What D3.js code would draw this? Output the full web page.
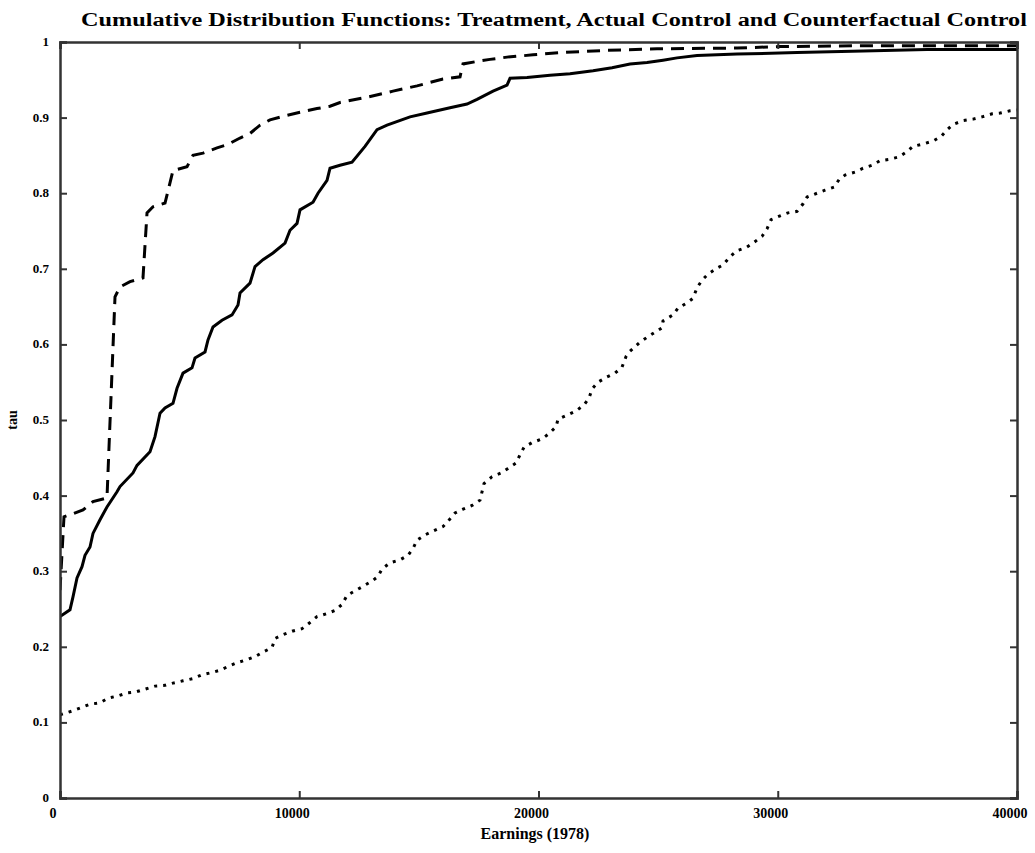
<!DOCTYPE html>
<html><head><meta charset="utf-8">
<script src="https://cdn.jsdelivr.net/npm/d3@7"></script>
<style>body{margin:0;background:#fff}svg{display:block}</style>
</head><body><svg id="c" width="1035" height="853"></svg>
<script>
const titleText = "Cumulative Distribution Functions: Treatment, Actual Control and Counterfactual Control";
const xLabel = "Earnings (1978)";
const yLabel = "tau";
const xTicks = [0, 10000, 20000, 30000, 40000];
const yTicks = [0, 0.1, 0.2, 0.3, 0.4, 0.5, 0.6, 0.7, 0.8, 0.9, 1];
const yTickLabels = ["0","0.1","0.2","0.3","0.4","0.5","0.6","0.7","0.8","0.9","1"];

// Treatment (solid)
const treatX = [0,418,543,711,920,1045,1254,1379,1672,1964,2383,2508,3051,3219,3762,3971,4180,4389,4723,4891,5141,5518,5643,6061,6186,6395,6772,7190,7440,7524,7942,8151,8485,8903,9405,9614,9907,10032,10575,10784,11161,11286,11704,12206,12749,13251,13669,14630,15341,16302,17013,17431,18100,18685,18810,19521,20482,21318,22279,23074,23826,24537,25205,25791,26627,28299,30807,33565,36241,40000];
const treatY = [0.24,0.249,0.266,0.291,0.306,0.321,0.332,0.35,0.368,0.385,0.405,0.412,0.43,0.44,0.458,0.478,0.509,0.516,0.522,0.542,0.562,0.569,0.582,0.59,0.606,0.623,0.632,0.639,0.652,0.668,0.681,0.703,0.712,0.721,0.734,0.751,0.76,0.778,0.788,0.8,0.817,0.833,0.837,0.841,0.862,0.884,0.89,0.901,0.906,0.913,0.918,0.924,0.935,0.943,0.952,0.953,0.956,0.958,0.962,0.966,0.971,0.973,0.976,0.979,0.982,0.984,0.986,0.988,0.99,0.99];

// Actual control (dashed)
const ctrlX = [0,167,543,961,1379,1964,2299,2508,2926,3469,3637,3887,4389,4723,5309,5559,5977,6563,6981,7524,7942,8360,8778,9489,10032,10743,11286,11704,12833,13919,14923,16009,16720,16845,17556,17974,18685,19771,20900,22865,24955,28299,30096,33440,36241,40000];
const ctrlY = [0.275,0.372,0.376,0.381,0.392,0.397,0.663,0.676,0.683,0.688,0.774,0.782,0.787,0.83,0.835,0.85,0.853,0.86,0.864,0.873,0.879,0.89,0.897,0.903,0.907,0.912,0.915,0.92,0.927,0.935,0.942,0.951,0.954,0.971,0.975,0.977,0.98,0.983,0.986,0.989,0.991,0.992,0.994,0.995,0.995,0.995];

// Counterfactual control (dotted)
const cfX = [0,502,836,1254,1672,2006,2424,2801,3135,3553,3971,4389,4723,5141,5559,5936,6354,6688,7022,7399,7817,8151,8485,8862,8987,9321,9739,10116,10366,10743,11161,11495,11788,11997,12331,12665,13042,13292,13460,13794,14212,14546,14755,14923,15257,15591,16009,16218,16511,16845,17222,17556,17723,18058,18434,18726,19061,19228,19395,19730,20148,20440,20733,20816,21234,21569,21903,22112,22238,22488,22865,23199,23492,23659,23826,24244,24662,25164,25205,25623,25832,26209,26459,26627,26836,27086,27463,27713,28006,28299,28675,28967,29344,29553,29720,30096,30430,30807,31058,31225,31643,31977,32353,32562,32813,33231,33565,33942,34276,34694,35070,35405,35655,36073,36491,36826,37077,37327,37745,38163,38540,38958,39292,39710,40000];
const cfY = [0.11,0.115,0.119,0.124,0.126,0.132,0.135,0.139,0.14,0.144,0.148,0.149,0.152,0.155,0.158,0.163,0.166,0.169,0.174,0.179,0.183,0.187,0.193,0.199,0.211,0.216,0.221,0.224,0.23,0.24,0.244,0.248,0.256,0.268,0.274,0.28,0.287,0.293,0.303,0.311,0.315,0.321,0.33,0.341,0.348,0.353,0.359,0.366,0.377,0.382,0.387,0.394,0.416,0.425,0.43,0.436,0.443,0.454,0.464,0.47,0.475,0.482,0.491,0.501,0.507,0.512,0.52,0.529,0.541,0.55,0.557,0.562,0.57,0.584,0.591,0.603,0.612,0.622,0.631,0.639,0.648,0.655,0.661,0.675,0.685,0.693,0.701,0.705,0.716,0.724,0.728,0.734,0.743,0.753,0.765,0.77,0.774,0.776,0.786,0.795,0.8,0.804,0.808,0.818,0.824,0.828,0.833,0.837,0.843,0.845,0.848,0.855,0.862,0.865,0.869,0.875,0.884,0.891,0.896,0.898,0.901,0.905,0.906,0.909,0.91];

const svg = d3.select("#c");
const L = 60, R = 1017, T = 42, B = 798;
const x = d3.scaleLinear().domain([0, 40000]).range([L, R]);
const y = d3.scaleLinear().domain([0, 1]).range([B, T]);
const font = "'Liberation Serif','DejaVu Serif',serif";

svg.append("defs").append("clipPath").attr("id","pc")
  .append("rect").attr("x",L).attr("y",T-3).attr("width",R-L).attr("height",B-T+3);

const line = d3.line().x(d => x(d[0])).y(d => y(d[1]));
const g = svg.append("g").attr("clip-path","url(#pc)");
g.append("path").datum(d3.zip(cfX, cfY)).attr("d", line)
  .attr("fill","none").attr("stroke","#000").attr("stroke-width",3)
  .attr("stroke-dasharray","3,6");
g.append("path").datum(d3.zip(ctrlX, ctrlY)).attr("d", line)
  .attr("fill","none").attr("stroke","#000").attr("stroke-width",3)
  .attr("stroke-dasharray","13,8");
g.append("path").datum(d3.zip(treatX, treatY)).attr("d", line)
  .attr("fill","none").attr("stroke","#000").attr("stroke-width",3);

// frame with inward ticks on all sides
const axColor = "#333";
const tick = 7;
svg.append("g").attr("transform",`translate(0,${B})`)
  .call(d3.axisBottom(x).tickValues(xTicks).tickSize(-tick).tickFormat(""))
  .call(a => a.selectAll("line,path").attr("stroke",axColor).attr("stroke-width",2));
svg.append("g").attr("transform",`translate(0,${T})`)
  .call(d3.axisTop(x).tickValues(xTicks).tickSize(-tick).tickFormat(""))
  .call(a => a.selectAll("line,path").attr("stroke",axColor).attr("stroke-width",2));
svg.append("g").attr("transform",`translate(${L},0)`)
  .call(d3.axisLeft(y).tickValues(yTicks).tickSize(-tick).tickFormat(""))
  .call(a => a.selectAll("line,path").attr("stroke",axColor).attr("stroke-width",2));
svg.append("g").attr("transform",`translate(${R},0)`)
  .call(d3.axisRight(y).tickValues(yTicks).tickSize(-tick).tickFormat(""))
  .call(a => a.selectAll("line,path").attr("stroke",axColor).attr("stroke-width",2));
svg.selectAll(".domain").attr("stroke-width",2.5);

// tick labels
svg.append("g").selectAll("text").data(xTicks).join("text")
  .attr("x", d => x(d) - 7).attr("y", 818)
  .attr("text-anchor","middle").attr("font-family",font).attr("font-weight","bold")
  .attr("font-size",14).attr("fill","#000").text(d => String(d));
svg.append("g").selectAll("text").data(yTicks).join("text")
  .attr("x", 49).attr("y", d => y(d) + 4)
  .attr("text-anchor","end").attr("font-family",font).attr("font-weight","bold")
  .attr("font-size",13).attr("fill","#000").text((d,i) => yTickLabels[i]);

// titles
svg.append("text").attr("x",554).attr("y",26).attr("text-anchor","middle")
  .attr("font-family",font).attr("font-weight","bold").attr("font-size",18)
  .attr("textLength",946).attr("lengthAdjust","spacingAndGlyphs").text(titleText);
svg.append("text").attr("x",535).attr("y",839).attr("text-anchor","middle")
  .attr("font-family",font).attr("font-weight","bold").attr("font-size",16)
  .text(xLabel);
svg.append("text").attr("transform","translate(17,420) rotate(-90)").attr("text-anchor","middle")
  .attr("font-family",font).attr("font-weight","bold").attr("font-size",14)
  .text(yLabel);
</script></body></html>
